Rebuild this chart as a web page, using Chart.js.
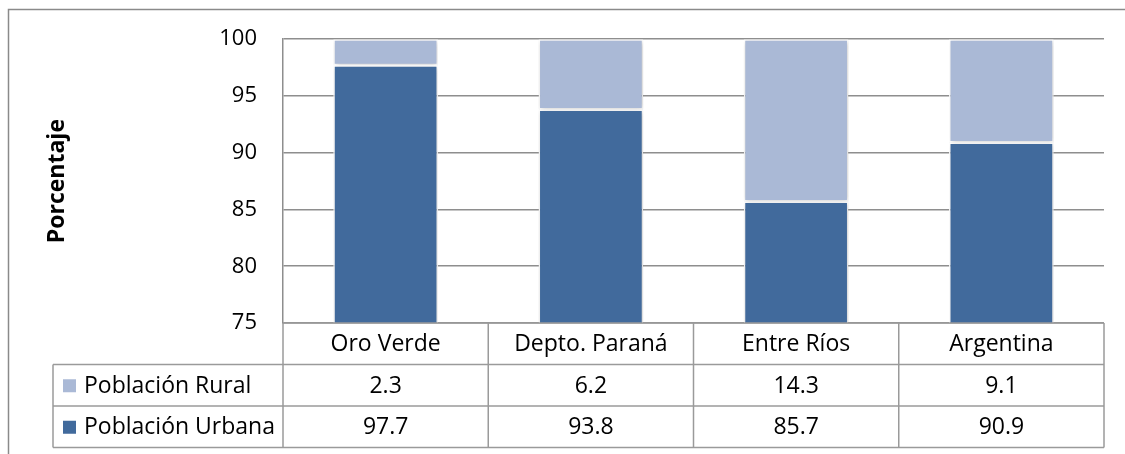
<!DOCTYPE html>
<html>
<head>
<meta charset="utf-8">
<script src="https://cdn.jsdelivr.net/npm/chart.js@4"></script>
<style>
  html, body { margin: 0; padding: 0; background: #fff; }
  #wrap { width: 1125px; height: 454px; position: relative; }
</style>
</head>
<body>
<div id="wrap"><canvas id="popChart" width="1125" height="454"></canvas></div>
<script>
// Data
const categories = ['Oro Verde', 'Depto. Paraná', 'Entre Ríos', 'Argentina'];
const urbana = [97.7, 93.8, 85.7, 90.9];
const rural = [2.3, 6.2, 14.3, 9.1];
const seriesNames = ['Población Rural', 'Población Urbana'];
const yTicks = [75, 80, 85, 90, 95, 100];

const FONT = "'Open Sans', sans-serif";
const colUrbana = '#416A9C';
const colRural = '#AAB9D6';
const lineGray = '#8E8E8E';

// Frame around the whole chart (only top/left visible in the crop)
const framePlugin = {
    id: 'frame',
    beforeDraw(chart) {
        const ctx = chart.ctx;
        ctx.save();
        ctx.strokeStyle = '#8A8A8A';
        ctx.lineWidth = 1.5;
        ctx.beginPath();
        ctx.moveTo(8.5, chart.height);
        ctx.lineTo(8.5, 9.5);
        ctx.lineTo(chart.width, 9.5);
        ctx.stroke();
        ctx.restore();
    }
};

// Soft shadow under bars
const shadowPlugin = {
    id: 'barShadow',
    beforeDatasetsDraw(chart) {
        const ctx = chart.ctx;
        ctx.save();
        ctx.shadowColor = 'rgba(0,0,0,0.22)';
        ctx.shadowBlur = 5;
        ctx.shadowOffsetX = 1;
        ctx.shadowOffsetY = 1;
    },
    afterDatasetsDraw(chart) {
        chart.ctx.restore();
    }
};

// Data table under the plot
const tablePlugin = {
    id: 'dataTable',
    afterDraw(chart) {
        const ctx = chart.ctx;
        const xs = chart.scales.x;
        const area = chart.chartArea;
        const rowH = 41.5;
        const top = area.bottom;
        const legendLeft = 53;
        const n = categories.length;
        const step = (area.right - area.left) / n;
        const bounds = [];
        for (let i = 0; i <= n; i++) bounds.push(area.left + i * step);

        ctx.save();
        ctx.strokeStyle = '#9A9A9A';
        ctx.lineWidth = 1.5;
        ctx.beginPath();
        // horizontal lines
        ctx.moveTo(area.left, top); ctx.lineTo(area.right, top);
        for (let r = 1; r <= 3; r++) {
            ctx.moveTo(legendLeft, top + r * rowH);
            ctx.lineTo(area.right, top + r * rowH);
        }
        // vertical lines
        bounds.forEach(b => { ctx.moveTo(b, top); ctx.lineTo(b, top + 3 * rowH); });
        ctx.moveTo(legendLeft, top + rowH); ctx.lineTo(legendLeft, top + 3 * rowH);
        ctx.stroke();

        ctx.fillStyle = '#000';
        ctx.font = '23px ' + FONT;
        ctx.textBaseline = 'middle';
        ctx.textAlign = 'center';
        categories.forEach((c, i) => {
            const cx = xs.getPixelForValue(i);
            ctx.fillText(c, cx, top + rowH / 2 + 1);
            ctx.fillText(rural[i].toFixed(1), cx, top + rowH * 1.5 + 1);
            ctx.fillText(urbana[i].toFixed(1), cx, top + rowH * 2.5 + 1);
        });

        // row headers with legend keys
        const rows = [[seriesNames[0], colRural], [seriesNames[1], colUrbana]];
        ctx.textAlign = 'left';
        rows.forEach((r, k) => {
            const cy = top + rowH * (1.5 + k);
            ctx.fillStyle = r[1];
            ctx.fillRect(63, cy - 6, 13, 13);
            ctx.fillStyle = '#000';
            ctx.fillText(r[0], 84, cy + 1);
        });
        ctx.restore();
    }
};

new Chart(document.getElementById('popChart'), {
    type: 'bar',
    data: {
        labels: categories,
        datasets: [
            {
                label: seriesNames[1],
                data: urbana,
                backgroundColor: colUrbana,
                borderColor: '#FFFFFF',
                borderWidth: 1.5,
                borderSkipped: false
            },
            {
                label: seriesNames[0],
                data: rural,
                backgroundColor: colRural,
                borderColor: '#FFFFFF',
                borderWidth: 1.5,
                borderSkipped: false
            }
        ]
    },
    options: {
        responsive: false,
        animation: false,
        devicePixelRatio: 1,
        layout: { padding: { left: 8, top: 39, right: 21, bottom: 131 } },
        plugins: {
            legend: { display: false },
            tooltip: { enabled: false }
        },
        datasets: {
            bar: { categoryPercentage: 1.0, barPercentage: 0.51 }
        },
        scales: {
            x: {
                stacked: true,
                display: false
            },
            y: {
                stacked: true,
                min: 75,
                max: 100,
                afterFit(scale) { scale.width = 275; },
                afterBuildTicks(scale) { scale.ticks = yTicks.map(v => ({ value: v })); },
                grid: { color: lineGray, lineWidth: 1.5, drawTicks: false },
                border: { display: true, color: lineGray, width: 1.5 },
                ticks: {
                    color: '#000',
                    padding: 26,
                    font: { family: FONT, size: 22 }
                },
                title: {
                    display: true,
                    text: 'Porcentaje',
                    color: '#000',
                    font: { family: FONT, size: 23, weight: 'bold' },
                    padding: { top: 36, bottom: 0 }
                }
            }
        }
    },
    plugins: [framePlugin, shadowPlugin, tablePlugin]
});
</script>
</body>
</html>
